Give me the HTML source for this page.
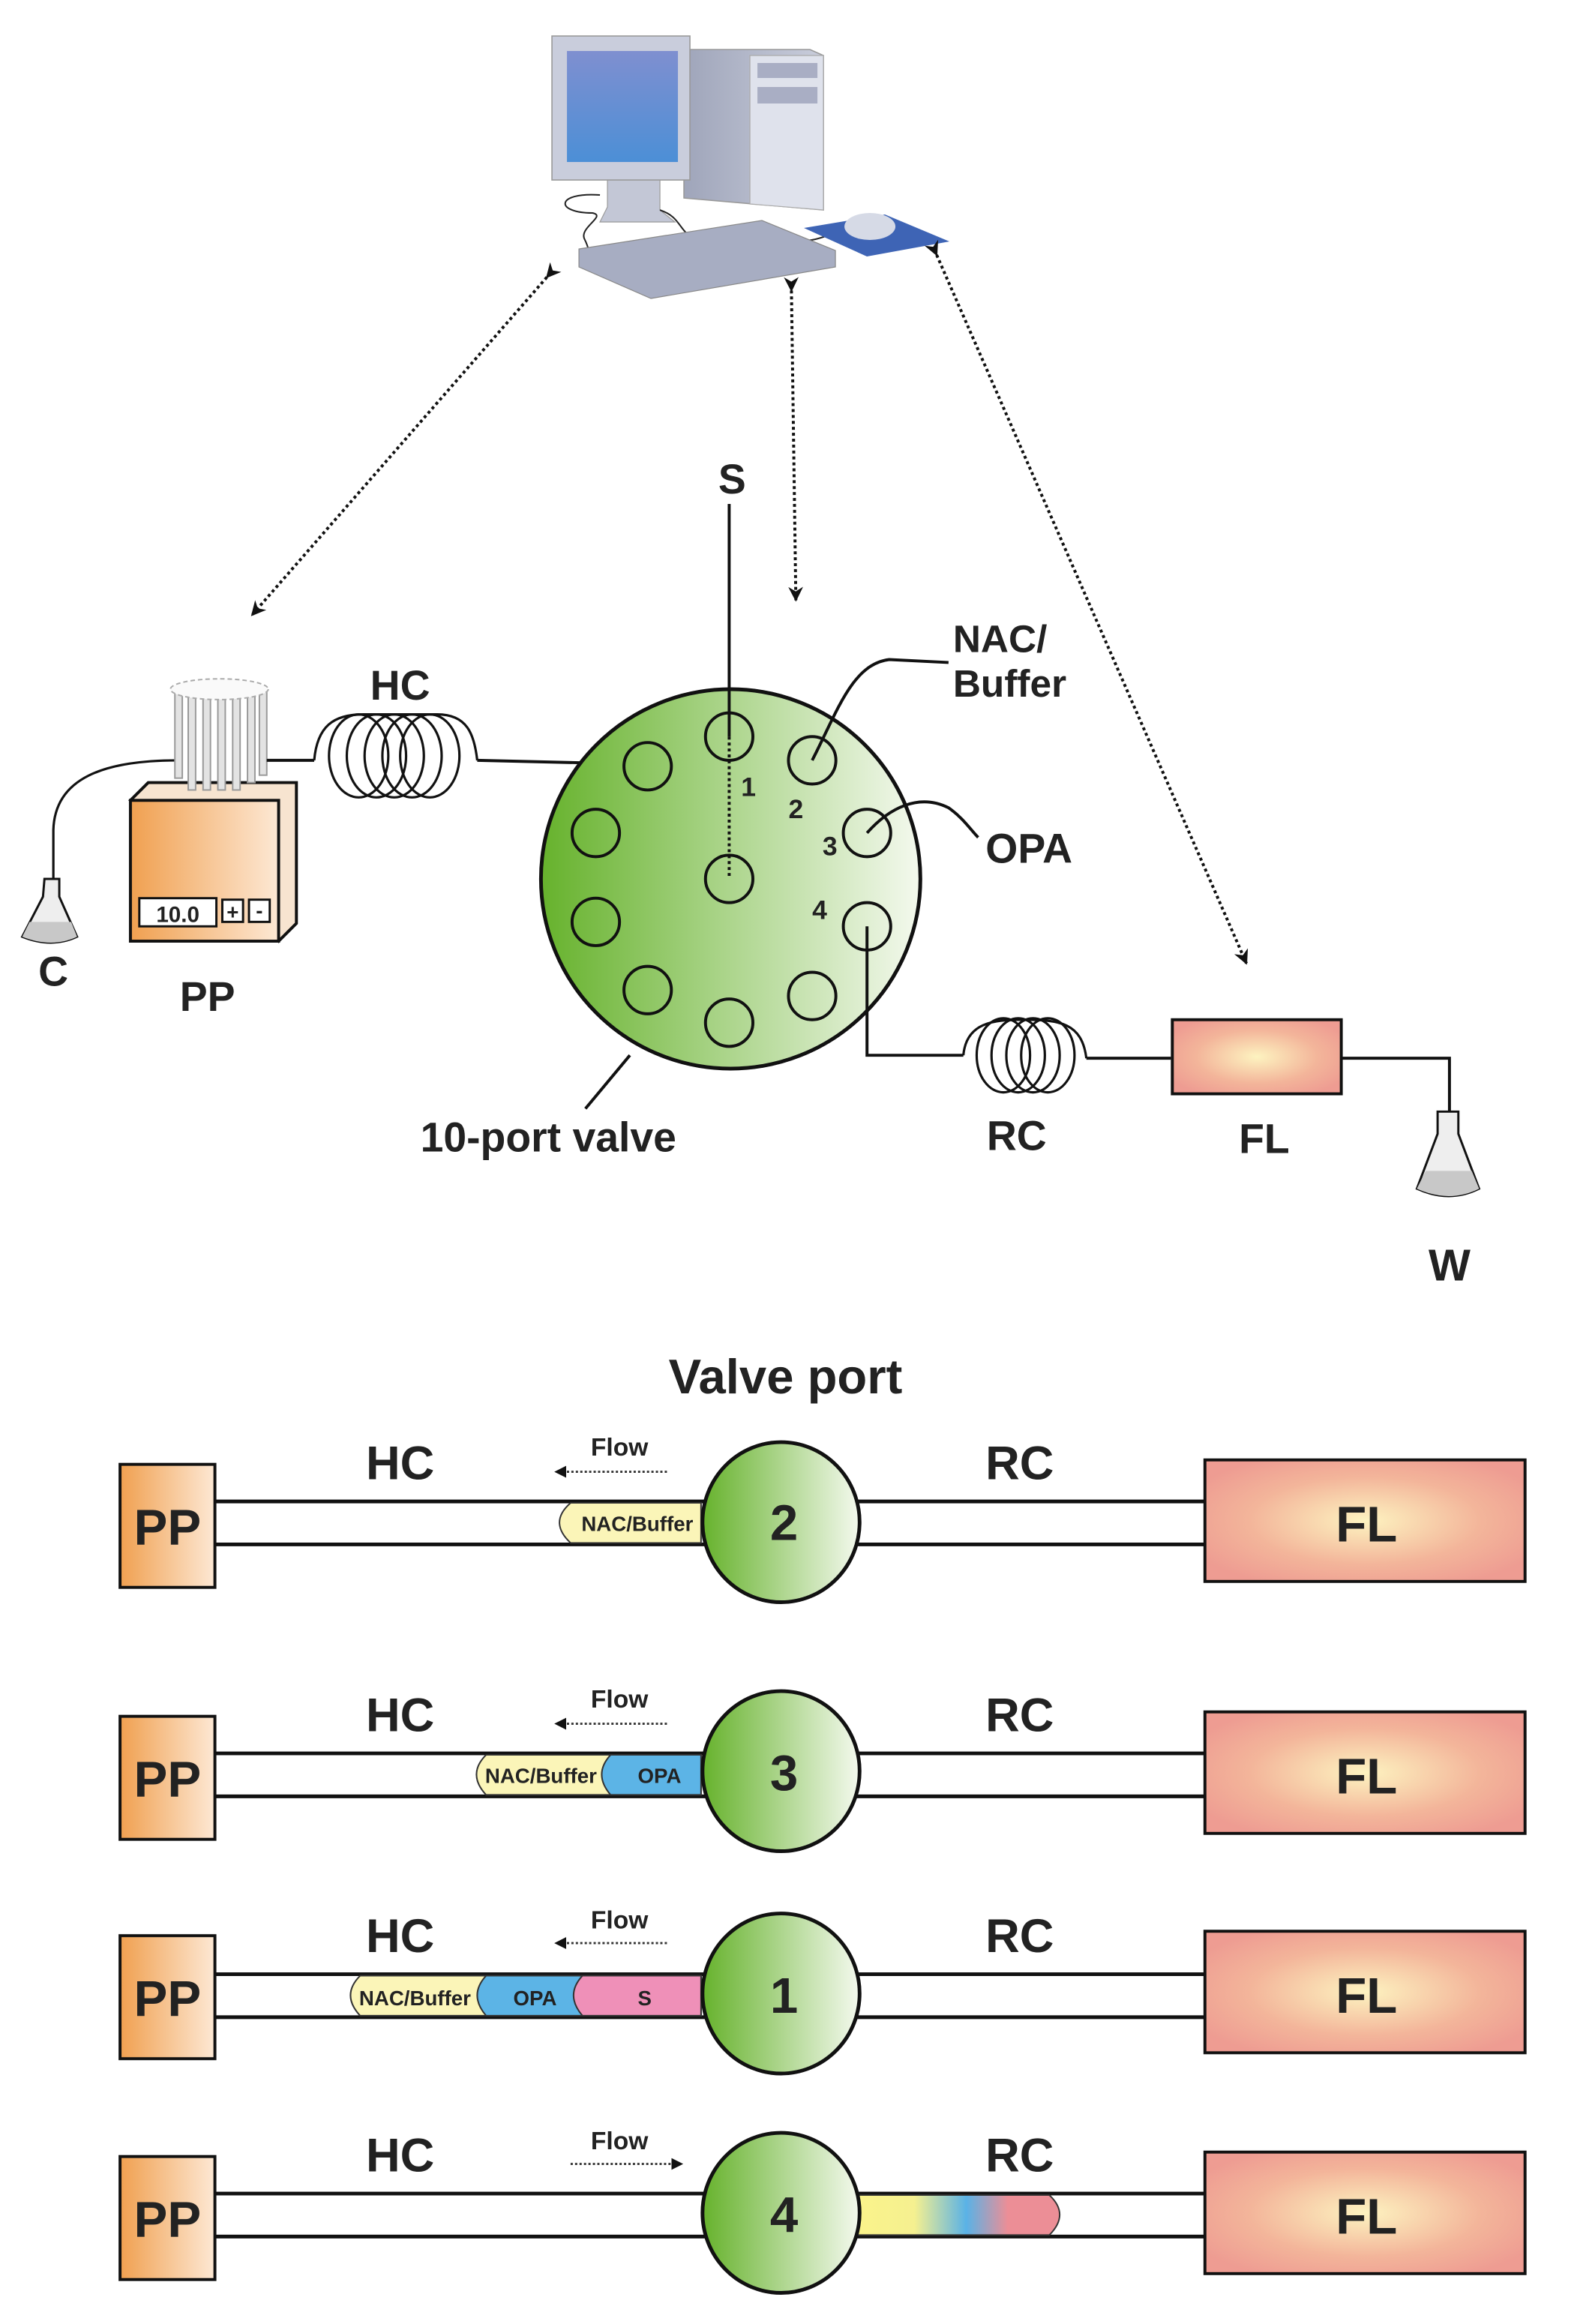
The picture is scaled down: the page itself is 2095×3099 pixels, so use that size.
<!DOCTYPE html>
<html><head><meta charset="utf-8"><style>
html,body{margin:0;padding:0;background:#fff;}
svg{display:block;}
text{font-family:"Liberation Sans",sans-serif;font-weight:bold;fill:#222;}
</style></head><body>
<svg width="2095" height="3099" viewBox="0 0 1060 1568" preserveAspectRatio="none" xmlns="http://www.w3.org/2000/svg">
<defs>
<linearGradient id="gv" x1="0" x2="1" y1="0" y2="0"><stop offset="0" stop-color="#66b22c"/><stop offset="1" stop-color="#f4f9ee"/></linearGradient>
<linearGradient id="gpp" x1="0" x2="1"><stop offset="0" stop-color="#f0a050"/><stop offset="1" stop-color="#fde8d4"/></linearGradient>
<radialGradient id="gfl" cx="0.5" cy="0.5" r="0.6"><stop offset="0" stop-color="#fdf3c0"/><stop offset="0.6" stop-color="#f3b59a"/><stop offset="1" stop-color="#ee9c92"/></radialGradient>
<linearGradient id="gmon" x1="0" y1="0" x2="0" y2="1"><stop offset="0" stop-color="#7f8fd0"/><stop offset="1" stop-color="#4c8fd6"/></linearGradient>
<linearGradient id="gtow" x1="0" x2="1"><stop offset="0" stop-color="#9fa5ba"/><stop offset="1" stop-color="#c9cddb"/></linearGradient>
<linearGradient id="grc" x1="0" x2="1"><stop offset="0" stop-color="#fbf48a"/><stop offset="0.3" stop-color="#f5f090"/><stop offset="0.55" stop-color="#5ab2e6"/><stop offset="0.75" stop-color="#ec8e96"/><stop offset="1" stop-color="#ec8e96"/></linearGradient>
<marker id="ah" markerWidth="10" markerHeight="10" refX="9" refY="5" orient="auto" markerUnits="userSpaceOnUse"><path d="M0,0 L10,5 L0,10 L3,5z" fill="#111"/></marker>
<marker id="as" markerWidth="8" markerHeight="8" refX="7" refY="4" orient="auto" markerUnits="userSpaceOnUse"><path d="M0,0 L8,4 L0,8z" fill="#111"/></marker>
</defs>

<!-- computer -->
<g transform="scale(1.012)">
<path d="M456 33 L540 33 L549 37 L549 140 L456 132 Z" fill="url(#gtow)" stroke="#999" stroke-width="0.8"/>
<path d="M500 37 L549 37 L549 140 L500 136 Z" fill="#dfe2ec" stroke="#aaa" stroke-width="0.6"/>
<rect x="505" y="42" width="40" height="10" fill="#a9aec4"/>
<rect x="505" y="58" width="40" height="11" fill="#a9aec4"/>
<path d="M405 118 L440 118 L440 140 L450 148 L400 148 L405 138 Z" fill="#c3c7d6" stroke="#999" stroke-width="0.6"/>
<rect x="368" y="24" width="92" height="96" fill="#c9cddc" stroke="#999" stroke-width="0.8"/>
<rect x="378" y="34" width="74" height="74" fill="url(#gmon)"/>
<path d="M400 130 C370 128 370 142 395 142 C405 144 385 152 390 160 C393 166 392 168 395 172" fill="none" stroke="#222" stroke-width="1"/>
<path d="M440 140 C455 145 452 155 465 160 C490 162 510 155 530 160 C545 163 560 152 575 150" fill="none" stroke="#222" stroke-width="1"/>
<path d="M386 166 L508 147 L557 167 L557 178 L434 199 L386 178 Z" fill="#a7adc2" stroke="#888" stroke-width="0.6"/>
<path d="M536 152 L590 143 L633 161 L578 171 Z" fill="#3e64b5"/>
<ellipse cx="580" cy="151" rx="17" ry="9" fill="#d6dae6"/>
</g>

<!-- dotted arrows -->
<line x1="369" y1="187" x2="170" y2="415" stroke="#111" stroke-width="2" stroke-dasharray="2,2" marker-start="url(#ah)" marker-end="url(#ah)"/>
<line x1="534" y1="196" x2="537" y2="405" stroke="#111" stroke-width="2" stroke-dasharray="2,2" marker-start="url(#ah)" marker-end="url(#ah)"/>
<line x1="632" y1="172" x2="841" y2="650" stroke="#111" stroke-width="2" stroke-dasharray="2,2" marker-start="url(#ah)" marker-end="url(#ah)"/>

<!-- C flask -->
<path d="M120 513 C70 513 37 525 36 560 L36 600" fill="none" stroke="#111" stroke-width="1.6"/>
<path d="M30 593 L40 593 L40 605 L52 632 Q35 640 15 632 L29 605 Z" fill="#eee" stroke="#111" stroke-width="1.5"/>
<path d="M20 622 L48 622 L52 632 Q35 640 15 632 Z" fill="#c8c8c8"/>
<text x="36" y="665" font-size="28" text-anchor="middle">C</text>

<!-- PP pump -->
<path d="M88 540 L100 528 L200 528 L200 623 L188 635 Z" fill="#f7e4d0" stroke="#111" stroke-width="2"/>
<rect x="88" y="540" width="100" height="95" fill="url(#gpp)" stroke="#111" stroke-width="2"/>
<rect x="94" y="606" width="52" height="19" fill="#fff" stroke="#111" stroke-width="1.5"/>
<text x="120" y="622" font-size="15" text-anchor="middle" font-weight="normal">10.0</text>
<rect x="150" y="607" width="14" height="15" fill="#fff" stroke="#111" stroke-width="1.5"/>
<text x="157" y="620" font-size="14" text-anchor="middle">+</text>
<rect x="168" y="607" width="14" height="15" fill="#fff" stroke="#111" stroke-width="1.5"/>
<text x="175" y="619" font-size="14" text-anchor="middle">-</text>
<g stroke="#999" stroke-width="1" fill="#e3e3e3">
<rect x="118" y="465" width="5" height="60"/><rect x="127" y="468" width="5" height="65"/><rect x="137" y="465" width="5" height="68"/><rect x="147" y="468" width="5" height="65"/><rect x="157" y="465" width="5" height="68"/><rect x="167" y="468" width="5" height="60"/><rect x="175" y="465" width="5" height="58"/>
</g>
<ellipse cx="148" cy="465" rx="33" ry="7" fill="#fafafa" stroke="#aaa" stroke-dasharray="3,2"/>
<text x="140" y="682" font-size="28" text-anchor="middle">PP</text>
<line x1="180" y1="513" x2="212" y2="513" stroke="#111" stroke-width="2"/>

<!-- HC coil -->
<g fill="none" stroke="#111" stroke-width="1.6">
<path d="M212 513 C214 490 225 482 245 482 L295 482 C315 482 320 495 322 513"/>
<ellipse cx="242" cy="510" rx="20" ry="28"/><ellipse cx="254" cy="510" rx="20" ry="28"/><ellipse cx="266" cy="510" rx="20" ry="28"/><ellipse cx="278" cy="510" rx="20" ry="28"/><ellipse cx="290" cy="510" rx="20" ry="28"/>
</g>
<text x="270" y="472" font-size="28" text-anchor="middle">HC</text>
<path d="M322 513 L408 515 L492 593" fill="none" stroke="#111" stroke-width="2"/>

<!-- valve -->
<circle cx="493" cy="593" r="128" fill="url(#gv)" stroke="#111" stroke-width="2.5"/>
<g fill="none" stroke="#111" stroke-width="2">
<circle cx="492" cy="497" r="16"/><circle cx="548" cy="513" r="16"/><circle cx="585" cy="562" r="16"/><circle cx="585" cy="625" r="16"/><circle cx="548" cy="672" r="16"/><circle cx="492" cy="690" r="16"/><circle cx="437" cy="668" r="16"/><circle cx="402" cy="622" r="16"/><circle cx="402" cy="562" r="16"/><circle cx="437" cy="517" r="16"/><circle cx="492" cy="593" r="16"/>
</g>
<line x1="492" y1="340" x2="492" y2="497" stroke="#111" stroke-width="2"/>
<line x1="492" y1="497" x2="492" y2="593" stroke="#111" stroke-width="2" stroke-dasharray="2,2"/>
<text x="494" y="333" font-size="28" text-anchor="middle">S</text>
<text x="505" y="537" font-size="18" text-anchor="middle">1</text>
<text x="537" y="552" font-size="18" text-anchor="middle">2</text>
<text x="560" y="577" font-size="18" text-anchor="middle">3</text>
<text x="553" y="620" font-size="18" text-anchor="middle">4</text>
<path d="M548 513 C565 480 575 448 600 445 L640 447" fill="none" stroke="#111" stroke-width="2"/>
<path d="M585 562 C600 545 620 535 640 545 C650 552 655 560 660 565" fill="none" stroke="#111" stroke-width="2"/>
<text x="643" y="440" font-size="26">NAC/</text>
<text x="643" y="470" font-size="26">Buffer</text>
<text x="665" y="582" font-size="28">OPA</text>
<line x1="395" y1="748" x2="425" y2="712" stroke="#111" stroke-width="2"/>
<text x="370" y="777" font-size="28" text-anchor="middle">10-port valve</text>

<!-- RC coil -->
<path d="M585 625 L585 712 L650 712" fill="none" stroke="#111" stroke-width="2"/>
<g fill="none" stroke="#111" stroke-width="1.6">
<path d="M650 712 C652 690 670 688 690 688 C715 688 730 690 733 714"/>
<ellipse cx="677" cy="712" rx="18" ry="25"/><ellipse cx="687" cy="712" rx="18" ry="25"/><ellipse cx="697" cy="712" rx="18" ry="25"/><ellipse cx="707" cy="712" rx="18" ry="25"/>
</g>
<line x1="733" y1="714" x2="790" y2="714" stroke="#111" stroke-width="2"/>
<text x="686" y="776" font-size="28" text-anchor="middle">RC</text>
<rect x="791" y="688" width="114" height="50" fill="url(#gfl)" stroke="#111" stroke-width="2"/>
<text x="853" y="778" font-size="28" text-anchor="middle">FL</text>
<path d="M905 714 L978 714 L978 760" fill="none" stroke="#111" stroke-width="2"/>
<path d="M970 750 L984 750 L984 765 L998 802 Q978 812 956 802 L970 765 Z" fill="#eee" stroke="#111" stroke-width="1.5"/>
<path d="M962 790 L993 790 L998 802 Q978 812 956 802 Z" fill="#c8c8c8"/>
<text x="978" y="864" font-size="30" text-anchor="middle">W</text>

<text x="530" y="940" font-size="33" text-anchor="middle">Valve port</text>

<!-- rows -->
<g transform="translate(0,1027)">
 <line x1="145" y1="-14" x2="813" y2="-14" stroke="#111" stroke-width="2.5"/><line x1="145" y1="15" x2="813" y2="15" stroke="#111" stroke-width="2.5"/>
 <path d="M385 -13 L473 -13 L473 14 L385 14 Q370 0 385 -13Z" fill="#fbf5b8" stroke="#333" stroke-width="1"/>
 <text x="430" y="6" font-size="14" text-anchor="middle" font-weight="normal">NAC/Buffer</text>
</g>
<g transform="translate(0,1197)">
 <line x1="145" y1="-14" x2="813" y2="-14" stroke="#111" stroke-width="2.5"/><line x1="145" y1="15" x2="813" y2="15" stroke="#111" stroke-width="2.5"/>
 <path d="M328 -13 L473 -13 L473 14 L328 14 Q315 0 328 -13Z" fill="#fbf5b8" stroke="#333" stroke-width="1"/>
 <path d="M412 -13 L473 -13 L473 14 L412 14 Q400 0 412 -13Z" fill="#5cb4e6" stroke="#333" stroke-width="1"/>
 <text x="365" y="6" font-size="14" text-anchor="middle" font-weight="normal">NAC/Buffer</text>
 <text x="445" y="6" font-size="14" text-anchor="middle" font-weight="normal">OPA</text>
</g>
<g transform="translate(0,1346)">
 <line x1="145" y1="-14" x2="813" y2="-14" stroke="#111" stroke-width="2.5"/><line x1="145" y1="15" x2="813" y2="15" stroke="#111" stroke-width="2.5"/>
 <path d="M243 -13 L473 -13 L473 14 L243 14 Q230 0 243 -13Z" fill="#fbf5b8" stroke="#333" stroke-width="1"/>
 <path d="M328 -13 L473 -13 L473 14 L328 14 Q316 0 328 -13Z" fill="#5cb4e6" stroke="#333" stroke-width="1"/>
 <path d="M393 -13 L473 -13 L473 14 L393 14 Q381 0 393 -13Z" fill="#ef90b8" stroke="#333" stroke-width="1"/>
 <text x="280" y="7" font-size="14" text-anchor="middle" font-weight="normal">NAC/Buffer</text>
 <text x="361" y="7" font-size="14" text-anchor="middle" font-weight="normal">OPA</text>
 <text x="435" y="7" font-size="14" text-anchor="middle" font-weight="normal">S</text>
</g>
<g transform="translate(0,1494)">
 <line x1="145" y1="-14" x2="813" y2="-14" stroke="#111" stroke-width="2.5"/><line x1="145" y1="15" x2="813" y2="15" stroke="#111" stroke-width="2.5"/>
 <path d="M575 -13 L708 -13 Q722 0 708 14 L575 14 Z" fill="url(#grc)" stroke="#333" stroke-width="1"/>
</g>
<g>
<rect x="81" y="988" width="64" height="83" fill="url(#gpp)" stroke="#111" stroke-width="2"/>
<rect x="81" y="1158" width="64" height="83" fill="url(#gpp)" stroke="#111" stroke-width="2"/>
<rect x="81" y="1306" width="64" height="83" fill="url(#gpp)" stroke="#111" stroke-width="2"/>
<rect x="81" y="1455" width="64" height="83" fill="url(#gpp)" stroke="#111" stroke-width="2"/>
<text x="113" y="1042" font-size="34" text-anchor="middle">PP</text>
<text x="113" y="1212" font-size="34" text-anchor="middle">PP</text>
<text x="113" y="1360" font-size="34" text-anchor="middle">PP</text>
<text x="113" y="1509" font-size="34" text-anchor="middle">PP</text>
<rect x="813" y="985" width="216" height="82" fill="url(#gfl)" stroke="#111" stroke-width="2"/>
<rect x="813" y="1155" width="216" height="82" fill="url(#gfl)" stroke="#111" stroke-width="2"/>
<rect x="813" y="1303" width="216" height="82" fill="url(#gfl)" stroke="#111" stroke-width="2"/>
<rect x="813" y="1452" width="216" height="82" fill="url(#gfl)" stroke="#111" stroke-width="2"/>
<text x="922" y="1040" font-size="34" text-anchor="middle">FL</text>
<text x="922" y="1210" font-size="34" text-anchor="middle">FL</text>
<text x="922" y="1358" font-size="34" text-anchor="middle">FL</text>
<text x="922" y="1507" font-size="34" text-anchor="middle">FL</text>
<g fill="url(#gv)" stroke="#111" stroke-width="2.5">
<ellipse cx="527" cy="1027" rx="53" ry="54"/><ellipse cx="527" cy="1195" rx="53" ry="54"/><ellipse cx="527" cy="1345" rx="53" ry="54"/><ellipse cx="527" cy="1493" rx="53" ry="54"/>
</g>
<text x="529" y="1039" font-size="34" text-anchor="middle">2</text>
<text x="529" y="1208" font-size="34" text-anchor="middle">3</text>
<text x="529" y="1358" font-size="34" text-anchor="middle">1</text>
<text x="529" y="1506" font-size="34" text-anchor="middle">4</text>
<g font-size="32">
<text x="270" y="998" text-anchor="middle">HC</text><text x="688" y="998" text-anchor="middle">RC</text>
<text x="270" y="1168" text-anchor="middle">HC</text><text x="688" y="1168" text-anchor="middle">RC</text>
<text x="270" y="1317" text-anchor="middle">HC</text><text x="688" y="1317" text-anchor="middle">RC</text>
<text x="270" y="1465" text-anchor="middle">HC</text><text x="688" y="1465" text-anchor="middle">RC</text>
</g>
<g font-size="17" font-weight="normal">
<text x="418" y="982" text-anchor="middle">Flow</text>
<text x="418" y="1152" text-anchor="middle">Flow</text>
<text x="418" y="1301" text-anchor="middle">Flow</text>
<text x="418" y="1450" text-anchor="middle">Flow</text>
</g>
<g stroke="#333" stroke-width="1.5" stroke-dasharray="1.5,1.5">
<line x1="450" y1="993" x2="375" y2="993" marker-end="url(#as)"/>
<line x1="450" y1="1163" x2="375" y2="1163" marker-end="url(#as)"/>
<line x1="450" y1="1311" x2="375" y2="1311" marker-end="url(#as)"/>
<line x1="385" y1="1460" x2="460" y2="1460" marker-end="url(#as)"/>
</g>
</g>
</svg>
</body></html>
